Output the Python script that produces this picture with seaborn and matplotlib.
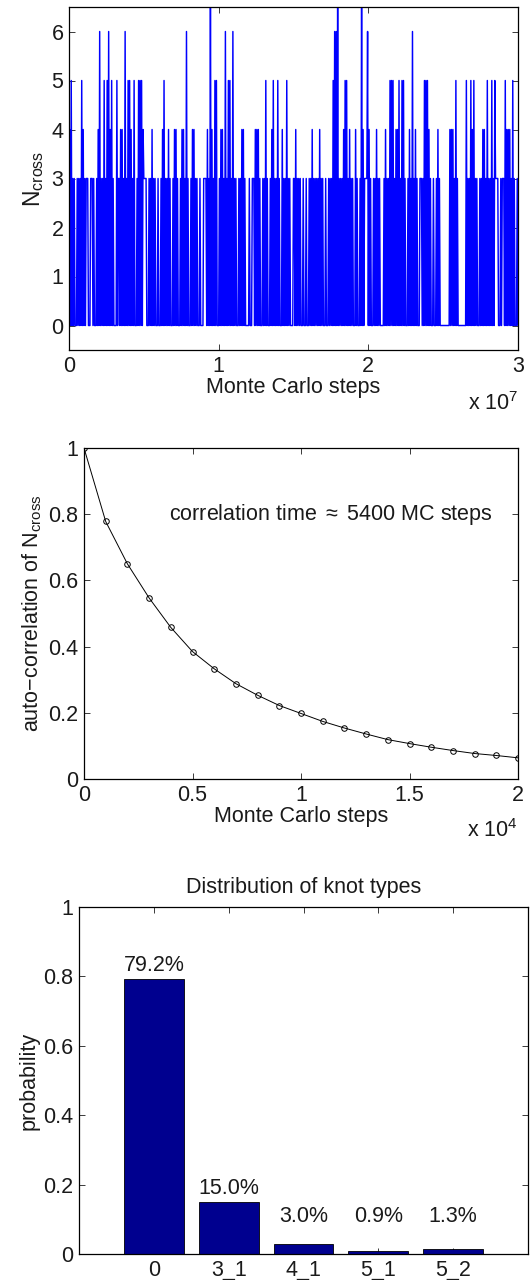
import numpy as np
import matplotlib
matplotlib.use("Agg")
import matplotlib.pyplot as plt
import seaborn as sns
from matplotlib.ticker import FuncFormatter, FixedLocator

# ---------------- data ----------------
# Panel 1: N_cross trace, one sample every 5e4 Monte Carlo steps
ncross_str = (
    "0405030300" "0303030504" "0303330003" "3303000304" "0603030503"
    "0506040503" "0000503304" "0403060305" "0504030500" "0305050504"
    "3333000303" "0403030003" "0003040503" "0304030003" "0404030003"
    "0404030603" "0003040403" "0300030000" "3333040307" "0403050500"
    "0304040306" "0305050306" "0303000303" "0404030000" "0300033304"
    "0404030003" "0305030003" "0405030305" "0300040303" "0503030000"
    "3304030303" "0003000300" "0303040303" "0303040303" "0003000303"
    "0305060607" "0303030405" "0503040303" "0004030003" "0704033336"
    "0403000303" "0403030000" "0304030305" "0505030404" "0503050503"
    "0003040306" "0304030003" "3303050505" "0403000300" "0304030000"
    "0000000004" "0404030503" "0000000000" "0503030504" "0503030003"
    "0304040305" "0303050305" "3333000303" "3305040404" "0305030003"
    "0"
)
ncross = [int(c) for c in ncross_str]
mc_step_interval = 5e4
mc_steps = [i * mc_step_interval for i in range(len(ncross))]

# Panel 2: autocorrelation of N_cross
lag_steps = [0, 1000, 2000, 3000, 4000, 5000, 6000, 7000, 8000, 9000, 10000,
             11000, 12000, 13000, 14000, 15000, 16000, 17000, 18000, 19000, 20000]
autocorr = [1.0, 0.778, 0.650, 0.547, 0.458, 0.385, 0.333, 0.288, 0.253, 0.222,
            0.198, 0.174, 0.154, 0.136, 0.119, 0.107, 0.096, 0.086, 0.077,
            0.071, 0.064]

# Panel 3: knot type distribution
knot_types = ["0", "3_1", "4_1", "5_1", "5_2"]
probabilities = [0.792, 0.150, 0.030, 0.009, 0.013]
prob_labels = ["79.2%", "15.0%", "3.0%", "0.9%", "1.3%"]

# ---------------- style ----------------
sns.set_style("ticks")
plt.rcParams["font.family"] = ["Liberation Sans", "DejaVu Sans"]
plt.rcParams["mathtext.fontset"] = "custom"
plt.rcParams["mathtext.rm"] = "Liberation Sans"
plt.rcParams["mathtext.it"] = "Liberation Sans:italic"
plt.rcParams["axes.edgecolor"] = "black"
plt.rcParams["axes.linewidth"] = 0.9
plt.rcParams["xtick.direction"] = "in"
plt.rcParams["ytick.direction"] = "in"
plt.rcParams["xtick.top"] = True
plt.rcParams["ytick.right"] = True
plt.rcParams["xtick.major.size"] = 4.5
plt.rcParams["ytick.major.size"] = 4.5
plt.rcParams["xtick.major.width"] = 0.6
plt.rcParams["ytick.major.width"] = 0.6
plt.rcParams["xtick.color"] = "#1a1a1a"
plt.rcParams["ytick.color"] = "#1a1a1a"
plt.rcParams["text.color"] = "#1a1a1a"
plt.rcParams["axes.labelcolor"] = "#1a1a1a"

FS = 15.5
W, H = 532, 1280
fig = plt.figure(figsize=(W / 100, H / 100), dpi=100)

def pos(l, t, r, b):
    return [l / W, 1 - b / H, (r - l) / W, (b - t) / H]

ax1 = fig.add_axes(pos(69, 7, 518, 350))
ax2 = fig.add_axes(pos(84, 448, 518, 779))
ax3 = fig.add_axes(pos(79, 907, 528, 1254))

for ax in (ax1, ax2, ax3):
    for s in ax.spines.values():
        s.set_visible(True)
        s.set_color("black")
    ax.tick_params(labelsize=FS, pad=4)

# ---- Panel 1 ----
sns.lineplot(x=mc_steps, y=ncross, ax=ax1, color=(0, 0, 1), linewidth=1.05,
             estimator=None, sort=False)
ax1.set_xlim(0, 3e7)
ax1.set_ylim(-0.5, 6.5)
ax1.xaxis.set_major_locator(FixedLocator([0, 1e7, 2e7, 3e7]))
ax1.xaxis.set_major_formatter(FuncFormatter(lambda v, p: f"{v/1e7:g}"))
ax1.set_yticks(range(0, 7))
ax1.set_xlabel("Monte Carlo steps", fontsize=FS, labelpad=0)
ax1.set_ylabel(r"N$_{\mathrm{cross}}$", fontsize=FS + 1, labelpad=4)
ax1.text(1.0, -0.155, r"x 10$^{7}$", transform=ax1.transAxes, ha="right",
         va="center", fontsize=FS)

# ---- Panel 2 ----
sns.lineplot(x=lag_steps, y=autocorr, ax=ax2, color="black", linewidth=0.7,
             marker="o", markersize=4, markerfacecolor="none",
             markeredgecolor="black", markeredgewidth=0.7)
ax2.set_xlim(0, 2e4)
ax2.set_ylim(0, 1)
ax2.xaxis.set_major_locator(FixedLocator([0, 5000, 10000, 15000, 20000]))
ax2.xaxis.set_major_formatter(FuncFormatter(lambda v, p: f"{v/1e4:g}"))
ax2.set_yticks([0, 0.2, 0.4, 0.6, 0.8, 1.0])
ax2.yaxis.set_major_formatter(FuncFormatter(lambda v, p: f"{v:g}"))
ax2.set_xlabel("Monte Carlo steps", fontsize=FS, labelpad=0)
ax2.set_ylabel(r"auto$-$correlation of N$_{\mathrm{cross}}$", fontsize=FS, labelpad=3)
ax2.text(3900, 0.8, r"correlation time $\approx$ 5400 MC steps",
         fontsize=FS, va="center", ha="left")
ax2.text(1.0, -0.155, r"x 10$^{4}$", transform=ax2.transAxes, ha="right",
         va="center", fontsize=FS)

# ---- Panel 3 ----
sns.barplot(x=knot_types, y=probabilities, ax=ax3, color="#00008f",
            saturation=1, width=0.8, edgecolor="black", linewidth=0.6)
ax3.set_xlim(-1, 5)
ax3.set_ylim(0, 1)
ax3.set_yticks([0, 0.2, 0.4, 0.6, 0.8, 1.0])
ax3.yaxis.set_major_formatter(FuncFormatter(lambda v, p: f"{v:g}"))
ax3.set_ylabel("probability", fontsize=FS, labelpad=3)
ax3.set_xlabel("")
ax3.set_title("Distribution of knot types", fontsize=FS, pad=10)
for i, (v, lab) in enumerate(zip(probabilities, prob_labels)):
    ax3.text(i, max(v, 0.07) + 0.008, lab, ha="center", va="bottom", fontsize=FS)

fig.savefig("out.png", dpi=100)
